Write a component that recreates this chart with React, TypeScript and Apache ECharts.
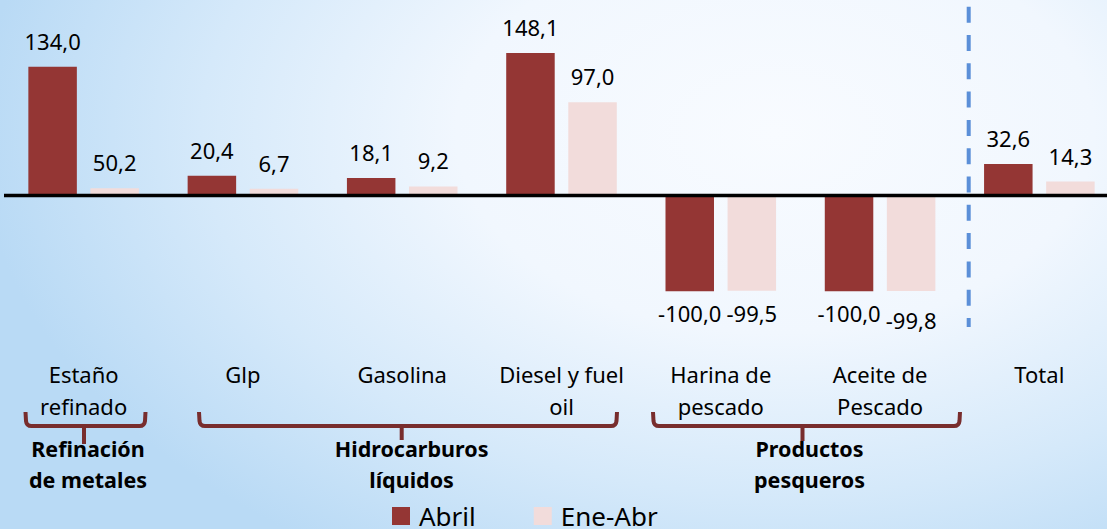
import React, { useEffect, useRef } from "react";
import * as echarts from "echarts";

// ---- data ----
const categories = [
  "Estaño\nrefinado",
  "Glp",
  "Gasolina",
  "Diesel y fuel\noil",
  "Harina de\npescado",
  "Aceite de\nPescado",
  "Total",
];
const seriesNames = ["Abril", "Ene-Abr"];
// bar heights as drawn in the reference
const abril = [134.0, 20.4, 18.1, 148.1, -100.0, -100.0, 32.6];
const eneAbr = [7.3, 6.7, 9.2, 97.0, -99.5, -99.8, 14.3];
// data labels as printed in the reference
const abrilLabels = ["134,0", "20,4", "18,1", "148,1", "-100,0", "-100,0", "32,6"];
const eneAbrLabels = ["50,2", "6,7", "9,2", "97,0", "-99,5", "-99,8", "14,3"];
const groupLabels = ["Refinación\nde metales", "Hidrocarburos\nlíquidos", "Productos\npesqueros"];

const FONT = "'Noto Sans', sans-serif";
const RED = "#943634";
const PINK = "#F2DCDB";
const BRACE = "#782D2D";

function braceD(x1: number, x2: number, xc: number, yT: number, yM: number, yB: number) {
  return (
    `M${x1} ${yT} L${x1 + 0.5} ${yM - 5} Q${x1 + 1} ${yM} ${x1 + 6} ${yM} ` +
    `L${x2 - 6} ${yM} Q${x2 - 1} ${yM} ${x2 - 0.5} ${yM - 5} L${x2} ${yT} ` +
    `M${xc} ${yM} L${xc} ${yB}`
  );
}

const braces = [
  { name: "brace1", d: braceD(25.5, 145.5, 84, 412, 426, 444) },
  { name: "brace2", d: braceD(199, 617, 401.7, 412, 426, 440) },
  { name: "brace3", d: braceD(653, 960, 802.5, 412, 426, 441) },
];
braces.forEach((b) => {
  echarts.graphic.registerShape(b.name, echarts.graphic.extendPath(b.d, {}));
});

const groupPos = [88, 411.6, 809.5];

function makeData(values: number[], labels: string[]) {
  return values.map((v, i) => ({
    value: v,
    label: {
      position: v < 0 ? "bottom" : "top",
      distance: v < 0 ? 11 : 15,
      formatter: labels[i],
      offset: labels[i] === "-99,8" ? [0, 7] : [0, 0],
    },
  }));
}

export default function App() {
  const ref = useRef<HTMLDivElement>(null);
  useEffect(() => {
    if (!ref.current) return;
    const chart = echarts.init(ref.current, undefined, { renderer: "svg" });
    const labelStyle = {
      show: true,
      fontSize: 22,
      color: "#000",
      fontFamily: FONT,
    };
    const option: any = {
      animation: false,
      backgroundColor: "transparent",
      textStyle: { fontFamily: FONT },
      grid: {
        left: 4,
        width: 1115,
        top: 3.3,
        height: 336,
        containLabel: false,
        outerBoundsMode: "none",
      },
      xAxis: {
        type: "category",
        data: categories,
        axisLine: { show: false },
        axisTick: { show: false },
        splitLine: { show: false },
        axisLabel: {
          interval: 0,
          margin: 18.5,
          fontSize: 22,
          lineHeight: 32,
          color: "#000",
          fontFamily: FONT,
        },
      },
      yAxis: {
        type: "value",
        min: -150,
        max: 200,
        show: false,
        splitLine: { show: false },
      },
      legend: {
        data: seriesNames,
        left: 387,
        top: 498,
        itemWidth: 18,
        itemHeight: 18,
        itemGap: 58,
        icon: "rect",
        textStyle: {
          fontSize: 26,
          lineHeight: 26,
          color: "#000",
          fontFamily: FONT,
          padding: [0, 0, 0, 4],
        },
      },
      series: [
        {
          name: seriesNames[0],
          type: "bar",
          data: makeData(abril, abrilLabels),
          barWidth: 48.5,
          barGap: "28%",
          itemStyle: { color: RED },
          label: labelStyle,
          markLine: {
            silent: true,
            symbol: "none",
            label: { show: false },
            lineStyle: { color: "#000", width: 3.3, type: "solid" },
            data: [{ yAxis: 0 }],
            z: 10,
          },
        },
        {
          name: seriesNames[1],
          type: "bar",
          data: makeData(eneAbr, eneAbrLabels),
          barWidth: 48.5,
          itemStyle: { color: PINK },
          label: labelStyle,
        },
      ],
      graphic: [
        {
          type: "line",
          shape: { x1: 968.7, y1: 6.7, x2: 968.7, y2: 327 },
          style: { stroke: "#5B8FD8", lineWidth: 4, lineDash: [16, 12.3] },
          z: 5,
        },
        ...braces.map((b) => ({
          type: b.name,
          x: 0,
          y: 0,
          scaleX: 1,
          scaleY: 1,
          style: { stroke: BRACE, lineWidth: 4, fill: null, lineJoin: "round" },
          z: 5,
        })),
        ...groupLabels.map((t, i) => ({
          type: "text",
          x: groupPos[i],
          y: 432.7,
          z: 6,
          style: {
            text: t,
            fontSize: 21.5,
            fontWeight: "bold",
            lineHeight: 31,
            fontFamily: FONT,
            fill: "#000",
            textAlign: "center",
            textVerticalAlign: "top",
          },
        })),
      ],
    };
    chart.setOption(option);
    return () => chart.dispose();
  }, []);

  return (
    <div
      style={{
        position: "absolute",
        left: 0,
        top: 0,
        width: 1107,
        height: 529,
        background:
          "radial-gradient(ellipse 72% 95% at 70% 25%, #F8FBFF 0%, #F1F7FE 40%, #D5E9FA 72%, #B9DAF5 100%)",
      }}
    >
      <div ref={ref} style={{ width: 1107, height: 529 }} />
    </div>
  );
}
